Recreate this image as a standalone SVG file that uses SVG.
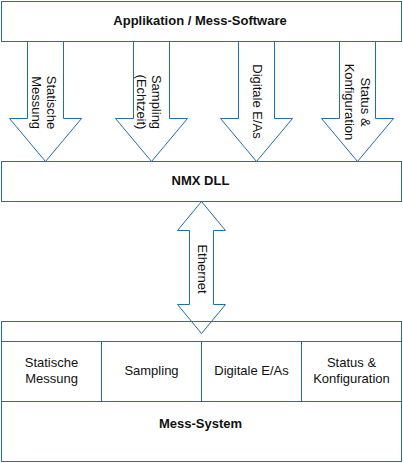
<svg xmlns="http://www.w3.org/2000/svg" width="403" height="463" viewBox="0 0 403 463">
<style>
.box{fill:#fff;stroke:#1f6db3;stroke-width:1}
.ln{fill:none;stroke:#1f6db3;stroke-width:1}
.arr{fill:#fff;stroke:#1f6db3;stroke-width:1;stroke-linejoin:miter}
.t{font-family:"Liberation Sans",Arial,sans-serif;font-size:13px;fill:#111;text-anchor:middle}
.b{font-weight:bold}
</style>
<rect width="403" height="463" fill="#fff"/>
<g id="app">
<rect class="box" x="1.5" y="1.5" width="400" height="40"/>
<text class="t b" x="200" y="25">Applikation / Mess-Software</text>
</g>
<g id="dll">
<rect class="box" x="1.5" y="161.5" width="400" height="40"/>
<text class="t b" x="200.5" y="185">NMX DLL</text>
</g>
<g id="mess">
<rect class="box" x="1.5" y="321.5" width="400" height="140"/>
<line class="ln" x1="1.5" y1="341.5" x2="401.5" y2="341.5"/>
<line class="ln" x1="1.5" y1="401.5" x2="401.5" y2="401.5"/>
<line class="ln" x1="101.5" y1="341.5" x2="101.5" y2="401.5"/>
<line class="ln" x1="201.5" y1="341.5" x2="201.5" y2="401.5"/>
<line class="ln" x1="301.5" y1="341.5" x2="301.5" y2="401.5"/>
<text class="t b" x="200.5" y="428">Mess-System</text>
</g>
<g id="cell1"><text class="t" x="51.5" y="367">Statische<tspan x="51.5" dy="16">Messung</tspan></text></g>
<g id="cell2"><text class="t" x="151.5" y="375">Sampling</text></g>
<g id="cell3"><text class="t" x="251.5" y="375">Digitale E/As</text></g>
<g id="cell4"><text class="t" x="351.5" y="367">Status &amp;<tspan x="351.5" dy="16">Konfiguration</tspan></text></g>
<g id="connectors">
<polygon class="arr" points="27.5,41.5 27.5,118.5 9.5,118.5 45.5,161.5 81.5,118.5 63.5,118.5 63.5,41.5"/>
<polygon class="arr" points="133.5,41.5 133.5,118.5 115.5,118.5 151.5,161.5 187.5,118.5 169.5,118.5 169.5,41.5"/>
<polygon class="arr" points="238.5,41.5 238.5,118.5 220.5,118.5 256.5,161.5 292.5,118.5 274.5,118.5 274.5,41.5"/>
<polygon class="arr" points="339.5,41.5 339.5,118.5 321.5,118.5 357.5,161.5 393.5,118.5 375.5,118.5 375.5,41.5"/>
<polygon class="ln" points="201.5,201.5 225.5,230.5 213.5,230.5 213.5,304.5 225.5,304.5 201.5,333.5 177.5,304.5 189.5,304.5 189.5,230.5 177.5,230.5"/>
<text class="t" transform="translate(46.5,102.5) rotate(90)">Statische<tspan x="0" dy="15">Messung</tspan></text>
<text class="t" transform="translate(151.5,102) rotate(90)">Sampling<tspan x="0" dy="15">(Echtzeit)</tspan></text>
<text class="t" transform="translate(253,101.5) rotate(90)">Digitale E/As</text>
<text class="t" transform="translate(360.5,102) rotate(90)">Status &amp;<tspan x="0" dy="15.5">Konfiguration</tspan></text>
<text class="t" transform="translate(197.5,269) rotate(90)">Ethernet</text>
</g>
</svg>
